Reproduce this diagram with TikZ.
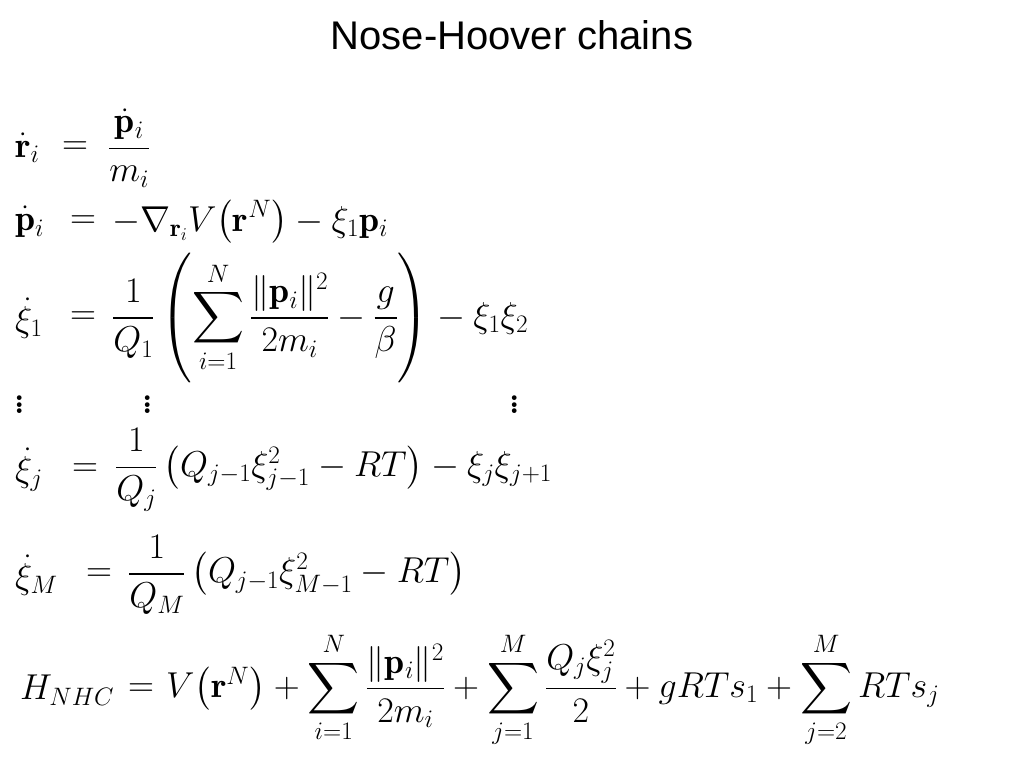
\RequirePackage{fix-cm}
\documentclass[tikz,border=0pt]{standalone}
\usepackage{amsmath,amssymb}
\usepackage{fontspec}
\newfontfamily\titlefont{Liberation Sans}
\tikzset{eq/.style={anchor=west,inner sep=0pt,font=\fontsize{36}{42}\selectfont}}
\begin{document}
\begin{tikzpicture}[x=1pt,y=-1pt]
\useasboundingbox (0,0) rectangle (1024,768);
\node[font=\titlefont\fontsize{40}{46}\selectfont] (title) at (512,35) {Nose-Hoover chains};
% row 1
\node[eq] (l1) at (15,148) {$\dot{\mathbf r}_i$};
\node[eq] (e1) at (62,148) {$=$};
\node[eq] (r1) at (108,148) {$\dfrac{\dot{\mathbf p}_i}{m_i}$};
% row 2
\node[eq] (l2) at (15,222) {$\dot{\mathbf p}_i$};
\node[eq] (e2) at (70,222) {$=$};
\node[eq] (r2) at (112,222) {$-\nabla_{\mathbf r_i} V\!\left(\mathbf r^N\right) - \xi_1\mathbf p_i$};
% row 3
\node[eq] (l3) at (15,318) {$\dot\xi_1$};
\node[eq] (e3) at (70,318) {$=$};
\node[eq] (r3) at (112,318) {$\dfrac{1}{Q_1}\left(\displaystyle\sum_{i=1}^{N}\frac{\|\mathbf p_i\|^2}{2m_i} - \frac{g}{\beta}\right) - \xi_1\xi_2$};
% dots
\node[eq,scale=1.6] (d1) at (12,400) {$\vdots$};
\node[eq,scale=1.6] (d2) at (140,400) {$\vdots$};
\node[eq,scale=1.6] (d3) at (507,400) {$\vdots$};
% row j
\node[eq] (l4) at (15,470) {$\dot\xi_j$};
\node[eq] (e4) at (72,470) {$=$};
\node[eq] (r4) at (115,470) {$\dfrac{1}{Q_j}\left(Q_{j-1}\xi_{j-1}^2 - RT\right) - \xi_j\xi_{j+1}$};
% row M
\node[eq] (l5) at (15,575) {$\dot\xi_M$};
\node[eq] (e5) at (86,575) {$=$};
\node[eq] (r5) at (128,575) {$\dfrac{1}{Q_M}\left(Q_{j-1}\xi_{M-1}^2 - RT\right)$};
% H
\node[eq] (l6) at (20,690) {$H_{NHC}$};
\node[eq] (e6) at (128,690) {$=$};
\node[eq] (r6) at (166,690) {$V\!\left(\mathbf r^N\right) + \displaystyle\sum_{i=1}^{N}\frac{\|\mathbf p_i\|^2}{2m_i} + \sum_{j=1}^{M}\frac{Q_j\xi_j^2}{2} + gRTs_1 + \sum_{j=2}^{M} RTs_j$};
\end{tikzpicture}
\end{document}
